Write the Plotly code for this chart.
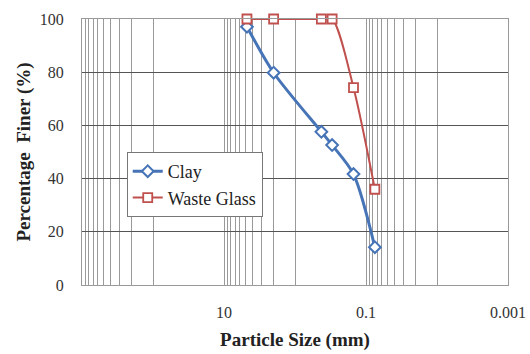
import plotly.graph_objects as go

particle_size_mm = [4.75, 2.0, 0.425, 0.3, 0.15, 0.075]
clay_finer = [97.1, 79.8, 57.6, 52.6, 41.7, 14.2]
glass_finer = [100, 100, 100, 100, 74.2, 36.0]

grid_vals = ([1000, 900, 800, 700, 600, 500, 400, 300, 200, 100, 10]
             + [9, 8, 7, 6, 5, 4, 3, 2, 1, 0.1]
             + [0.09, 0.08, 0.07, 0.06, 0.05, 0.04, 0.03, 0.02, 0.01, 0.001])
labelled = {10: "10", 0.1: "0.1", 0.001: "0.001"}
grid_text = [labelled.get(v, "") for v in grid_vals]
y_ticks = [0, 20, 40, 60, 80, 100]

serif = "Liberation Serif"
blue = "#4674B6"
red = "#C0504D"

fig = go.Figure()
fig.add_trace(go.Scatter(
    x=particle_size_mm, y=clay_finer, name="Clay", mode="lines+markers",
    cliponaxis=False,
    line=dict(color=blue, width=3, shape="spline", smoothing=0.8),
    marker=dict(symbol="diamond", size=9, color="white",
                line=dict(color=blue, width=2)),
))
fig.add_trace(go.Scatter(
    x=particle_size_mm, y=glass_finer, name="Waste Glass", mode="lines+markers",
    cliponaxis=False,
    line=dict(color=red, width=2, shape="spline", smoothing=0.8),
    marker=dict(symbol="square", size=9, color="white",
                line=dict(color=red, width=1.8)),
))

fig.update_layout(
    width=530, height=354,
    margin=dict(l=82, r=22, t=19, b=69),
    paper_bgcolor="white", plot_bgcolor="white",
    font=dict(family=serif, size=16, color="#222"),
    showlegend=True,
    legend=dict(x=0.105, y=0.5, xanchor="left", yanchor="top",
                bgcolor="white", bordercolor="#777", borderwidth=1,
                font=dict(family=serif, size=18, color="#222"),
                tracegroupgap=0, itemwidth=30),
    xaxis=dict(
        type="log", range=[3, -3], automargin=False,
        tickmode="array", tickvals=grid_vals, ticktext=grid_text,
        ticks="", ticklabelstandoff=13,
        showgrid=True, gridcolor="#9a9a9a", gridwidth=1,
        showline=True, linecolor="#999", linewidth=1, mirror=True,
        zeroline=False,
        tickfont=dict(family=serif, size=16, color="#333"),
        title=dict(text="<b>Particle Size (mm)</b>", standoff=12,
                   font=dict(family=serif, size=19, color="#222")),
    ),
    yaxis=dict(
        range=[0, 100], tickmode="array", tickvals=y_ticks, automargin=False,
        showgrid=True, gridcolor="#555", gridwidth=1,
        ticks="", ticklabelstandoff=14,
        showline=True, linecolor="#999", linewidth=1, mirror=True,
        zeroline=False,
        tickfont=dict(family=serif, size=16, color="#333"),
        title=dict(text="<b>Percentage  Finer (%)</b>", standoff=4,
                   font=dict(family=serif, size=19, color="#222")),
    ),
)

fig.write_html("out.html")
